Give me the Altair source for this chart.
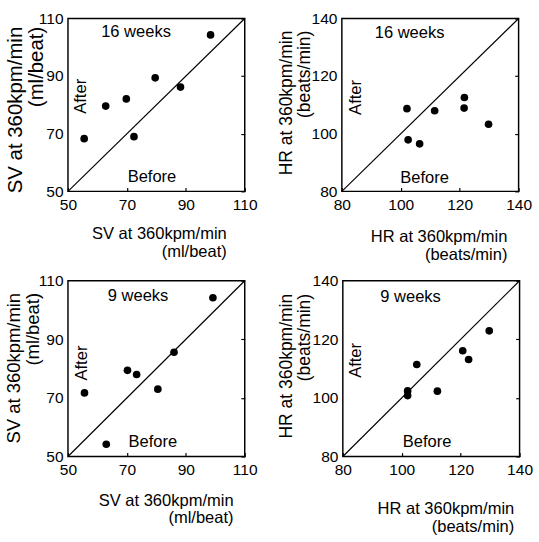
import altair as alt
import pandas as pd

# ---- data ----
sv16_before = [55.5, 62.8, 69.8, 72.4, 79.6, 88.2, 98.4]
sv16_after = [68.3, 79.6, 82.1, 69.0, 89.4, 86.2, 104.3]
hr16_before = [102.1, 102.5, 106.4, 111.5, 121.6, 121.5, 129.8]
hr16_after = [108.7, 97.9, 96.5, 108.0, 112.6, 108.9, 103.3]
sv9_before = [55.6, 63.0, 70.2, 73.3, 80.5, 86.0, 99.2]
sv9_after = [71.7, 54.2, 79.4, 78.0, 73.0, 85.6, 104.2]
hr9_before = [102.0, 102.0, 105.1, 112.1, 120.7, 122.7, 129.7]
hr9_after = [102.4, 100.8, 111.4, 102.3, 116.1, 113.1, 122.9]

sv_domain = [50, 110]
sv_ticks = [50, 70, 90, 110]
hr_domain = [80, 140]
hr_ticks = [80, 100, 120, 140]

sv_label = ["SV at 360kpm/min", "(ml/beat)"]
hr_label = ["HR at 360kpm/min", "(beats/min)"]

FONT = "Liberation Sans"
W = 182


def panel(before, after, dom, ticks, label, weeks, p_weeks, p_after, p_before,
          xt_y, xt_x, h, yt_size, yt_x, yt_y):
    df = pd.DataFrame({"b": before, "a": after})
    sx = alt.Scale(domain=dom, nice=False, zero=False)
    sy = alt.Scale(domain=dom, nice=False, zero=False)
    xaxis = alt.Axis(values=ticks, title=label, domain=False, grid=False,
                     tickSize=4, offset=-4, tickColor="black", tickWidth=1.2,
                     labelFlush=False, labelOverlap=False,
                     labelPadding=6, labelFontSize=16, labelFont=FONT, labelColor="black",
                     titleFont=FONT, titleFontSize=17, titleFontWeight="normal",
                     titleColor="black", titleAlign="right", titleBaseline="top",
                     titleX=xt_x, titleY=xt_y, titleLineHeight=18)
    yaxis = alt.Axis(values=ticks, title=label, domain=False, grid=False, ticks=False,
                     labelFlush=False, labelOverlap=False,
                     labelPadding=5, labelFontSize=16, labelFont=FONT, labelColor="black",
                     titleFont=FONT, titleFontSize=yt_size, titleFontWeight="normal",
                     titleColor="black", titleAngle=270, titleAlign="right",
                     titleBaseline="top", titleX=yt_x, titleY=yt_y,
                     titleLineHeight=yt_size + 1)
    yaxis_r = alt.Axis(values=ticks, title=None, domain=False, grid=False, labels=False,
                       orient="right", tickSize=4, offset=-4, tickColor="black", tickWidth=1.2)

    pts = alt.Chart(df).mark_circle(size=62, color="black", opacity=1).encode(
        x=alt.X("b:Q", scale=sx, axis=xaxis),
        y=alt.Y("a:Q", scale=sy, axis=yaxis),
    )
    txt = pd.DataFrame({
        "b": [p_weeks[0], p_before[0]],
        "a": [p_weeks[1], p_before[1]],
        "t": [weeks, "Before"],
    })
    labels = alt.Chart(txt).mark_text(font=FONT, fontSize=17, color="black").encode(
        x=alt.X("b:Q", scale=sx, axis=xaxis),
        y=alt.Y("a:Q", scale=sy, axis=yaxis),
        text="t:N",
    )
    after_lbl = alt.Chart(pd.DataFrame({"b": [p_after[0]], "a": [p_after[1]], "t": ["After"]})).mark_text(
        font=FONT, fontSize=17, color="black", angle=270).encode(
        x=alt.X("b:Q", scale=sx, axis=xaxis),
        y=alt.Y("a:Q", scale=sy, axis=yaxis),
        text="t:N",
    )
    diag = alt.Chart(pd.DataFrame({"b": dom, "a": dom})).mark_line(
        color="black", strokeWidth=1.2).encode(
        x=alt.X("b:Q", scale=sx, axis=xaxis),
        y=alt.Y("a:Q", scale=sy, axis=yaxis_r),
    )
    inner = alt.layer(pts, labels, after_lbl)
    return alt.layer(inner, diag).resolve_axis(y="independent").properties(
        width=W, height=h)


p1 = panel(sv16_before, sv16_after, sv_domain, sv_ticks, sv_label, "16 weeks",
           (73.1, 105.3), (54.3, 83), (78.5, 55), 40, 163, 178, 21, -65, 8)
p2 = panel(hr16_before, hr16_after, hr_domain, hr_ticks, hr_label, "16 weeks",
           (103, 134.8), (84.7, 112.6), (108.1, 84.5), 43, 170, 178, 18, -66, 12)
p3 = panel(sv9_before, sv9_after, sv_domain, sv_ticks, sv_label, "9 weeks",
           (73.8, 104.7), (54.8, 81.9), (78.8, 55), 41, 170, 181, 19, -65, 12)
p4 = panel(hr9_before, hr9_after, hr_domain, hr_ticks, hr_label, "9 weeks",
           (103, 134.5), (84.4, 112.8), (108.6, 84.9), 50, 176, 181, 18, -67, 13)

top = alt.hconcat(p1, p2, spacing=19)
bottom = alt.hconcat(p3, p4, spacing=19)
chart = alt.vconcat(top, bottom, spacing=9).properties(
    padding={"left": 4, "top": 2, "right": 5, "bottom": 0},
    background="white",
).configure_view(stroke="black", strokeWidth=1.5)

chart.save("out.html", embed_options={"renderer": "svg", "actions": False})
